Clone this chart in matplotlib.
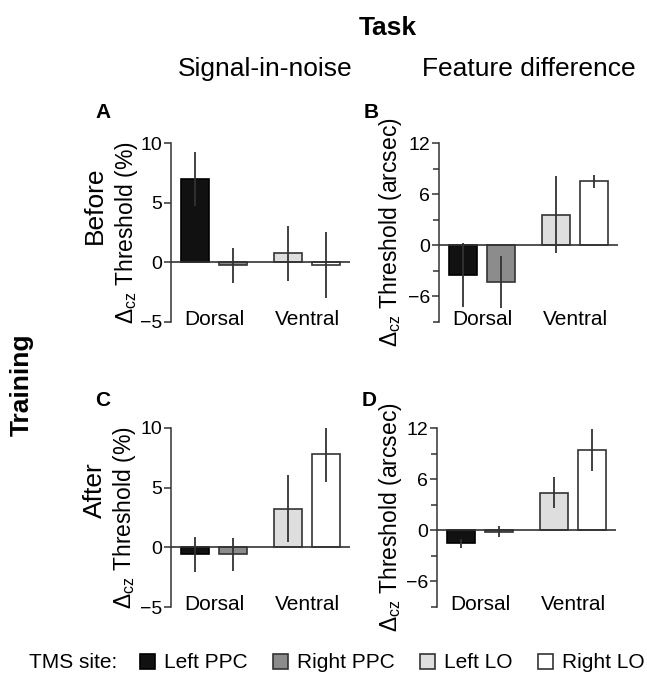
import numpy as np
import matplotlib
matplotlib.use('Agg')
from matplotlib import pyplot as plt
from matplotlib.ticker import FixedLocator

plt.rcParams['font.family'] = ['Liberation Sans', 'DejaVu Sans']
plt.rcParams['mathtext.fontset'] = 'custom'
plt.rcParams['mathtext.rm'] = 'Liberation Sans'
plt.rcParams['mathtext.it'] = 'Liberation Sans:italic'

# data
sites = ['Left PPC', 'Right PPC', 'Left LO', 'Right LO']
site_colors = ['#111111', '#8c8c8c', '#dedede', '#ffffff']
groups = ['Dorsal', 'Ventral']

before_sin = [7.0, -0.25, 0.75, -0.25]
before_sin_err = [2.25, 1.45, 2.3, 2.75]
before_fd = [-3.5, -4.3, 3.6, 7.5]
before_fd_err = [3.75, 3.05, 4.5, 0.75]
after_sin = [-0.6, -0.6, 3.25, 7.8]
after_sin_err = [1.5, 1.35, 2.8, 2.35]
after_fd = [-1.55, -0.15, 4.4, 9.4]
after_fd_err = [0.55, 0.65, 1.8, 2.5]

pos = np.array([0, 1, 2.45, 3.45])
width = 0.74
dark = '#333333'

fig = plt.figure(figsize=(6.47, 6.79), dpi=100)
W, H = 647., 679.

def axbox(l, t, r, b):
    return [l / W, 1 - b / H, (r - l) / W, (b - t) / H]

# letter, box, values, errors, task kind, x of ylabel centre (px)
panels = [
    ('A', axbox(171, 143, 350, 322), before_sin, before_sin_err, 'sin', 127),
    ('B', axbox(439, 143, 618, 322), before_fd, before_fd_err, 'fd', 391),
    ('C', axbox(171, 428, 350, 607), after_sin, after_sin_err, 'sin', 125),
    ('D', axbox(437, 428, 616, 607), after_fd, after_fd_err, 'fd', 390),
]

bars_for_legend = None
for letter, box, vals, errs, kind, lab_x in panels:
    ax = fig.add_axes(box)
    b = ax.bar(pos, vals, width, color=site_colors,
               edgecolor=[dark if c != '#111111' else '#000000' for c in site_colors],
               linewidth=1.2, zorder=2)
    if bars_for_legend is None:
        bars_for_legend = b
    ax.errorbar(pos, vals, yerr=errs, fmt='none', ecolor=dark,
                elinewidth=1.3, capsize=0, zorder=3)
    ax.axhline(0, color=dark, lw=1.2, zorder=4)
    ax.set_xlim(-0.63, 4.08)
    for s in ['top', 'right', 'bottom']:
        ax.spines[s].set_visible(False)
    ax.spines['left'].set_color(dark)
    ax.spines['left'].set_linewidth(1.1)
    ax.set_xticks([])
    if kind == 'sin':
        ax.set_ylim(-5, 10)
        ax.set_yticks([-5, 0, 5, 10])
        ax.set_yticklabels(['\u22125', '0', '5', '10'])
        ax.set_ylabel(r'$\Delta_{\mathrm{cz}}$ Threshold (%)', fontsize=16.5, va='center')
    else:
        ax.set_ylim(-9, 12)
        ax.set_yticks([-6, 0, 6, 12])
        ax.set_yticklabels(['\u22126', '0', '6', '12'])
        ax.yaxis.set_minor_locator(FixedLocator([-9, -3, 3, 9]))
        ax.set_ylabel(r'$\Delta_{\mathrm{cz}}$ Threshold (arcsec)', fontsize=16.5, va='center')
    ax.yaxis.set_label_coords((lab_x - box[0] * W) / (box[2] * W), 0.5)
    ax.tick_params(axis='y', which='major', length=5, width=1.1, color=dark,
                   labelsize=14, pad=1.5)
    ax.tick_params(axis='y', which='minor', length=4, width=1.1, color=dark)
    trans = ax.get_xaxis_transform()
    for gi, g in enumerate(groups):
        cx = pos[2 * gi:2 * gi + 2].mean()
        ax.text(cx, -0.015, g, transform=trans, ha='center', va='baseline', fontsize=15)
    # panel letter
    fig.text((box[0] * W - 68) / W, 1 - (112 if letter in 'AB' else 401) / H, letter,
             fontsize=15, fontweight='bold', ha='center', va='center')

fig.text(388 / W, 1 - 28 / H, 'Task', fontsize=19, fontweight='bold', ha='center', va='center')
fig.text(265 / W, 1 - 69 / H, 'Signal-in-noise', fontsize=19, ha='center', va='center')
fig.text(529 / W, 1 - 69 / H, 'Feature difference', fontsize=19, ha='center', va='center')
fig.text(95 / W, 1 - 205 / H, 'Before', fontsize=19, rotation=90, ha='center', va='center')
fig.text(95 / W, 1 - 490 / H, 'After', fontsize=19, rotation=90, ha='center', va='center')
fig.text(22 / W, 1 - 385 / H, 'Training', fontsize=19, fontweight='bold', rotation=90,
         ha='center', va='center')

fig.text(29 / W, 1 - 663 / H, 'TMS site:', fontsize=15, ha='left', va='center')
fig.legend(bars_for_legend, sites, ncol=4, loc='center right', bbox_to_anchor=(645 / W, 1 - 663 / H),
           frameon=False, fontsize=15, handlelength=0.72, handleheight=0.72,
           handletextpad=0.45, columnspacing=1.2, borderpad=0, borderaxespad=0)

plt.savefig('out.png', dpi=100)
